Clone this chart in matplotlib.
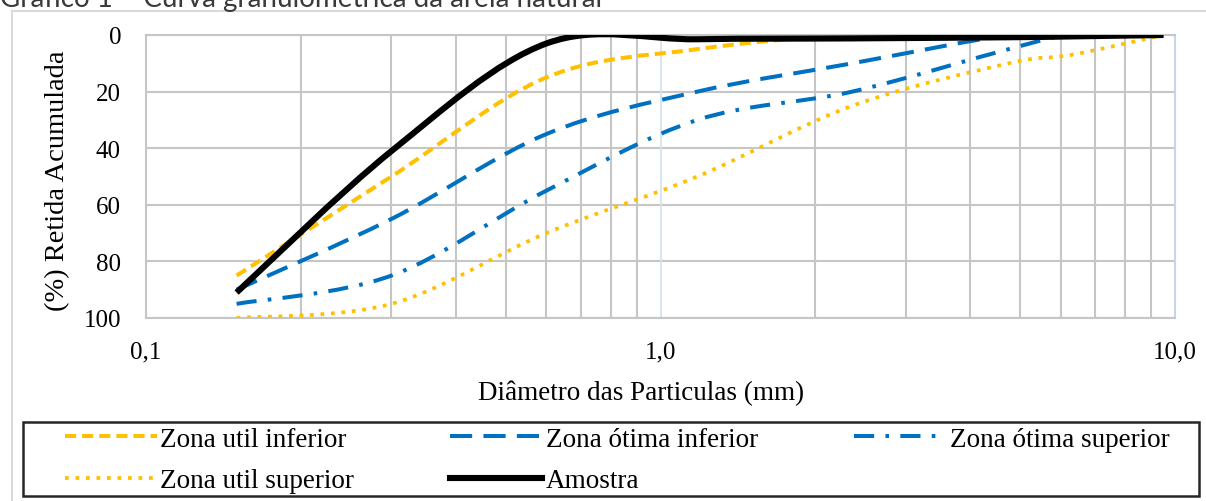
import numpy as np
import matplotlib
matplotlib.use("Agg")
import matplotlib.pyplot as plt
from matplotlib.path import Path
from matplotlib.patches import PathPatch, Rectangle
from matplotlib.lines import Line2D
from matplotlib.ticker import FixedLocator, NullFormatter

# ---------------- data ----------------
sieves = [0.15, 0.3, 0.6, 1.18, 2.36, 4.75, 6.3, 9.5]   # mm
util_inferior = [85, 50, 15, 5, 0, 0, 0, 0]
otima_inferior = [90, 65, 35, 20, 10, 0, 0, 0]
otima_superior = [95, 85, 55, 30, 20, 5, 0, 0]
util_superior = [100, 95, 70, 50, 25, 10, 7, 0]
amostra = [91, 41, 3, 1.5, 1.2, 0.8, 0.5, 0]

series_labels = ["Zona util inferior", "Zona ótima inferior", "Zona ótima superior",
                 "Zona util superior", "Amostra"]
x_tick_values = [0.1, 1.0, 10.0]
x_tick_labels = ["0,1", "1,0", "10,0"]
y_tick_values = [0, 20, 40, 60, 80, 100]
y_tick_labels = ["0", "20", "40", "60", "80", "100"]

title_text = "Gráfico 1 – Curva granulométrica da areia natural"
xlabel_text = "Diâmetro das Particulas (mm)"
ylabel_text = "(%) Retida Acumulada"

# ---------------- styles ----------------
ORANGE = "#FFC000"
BLUE = "#0070C0"
styles = [
    dict(color=ORANGE, lw=2.9, ls=(0, (2.75, 1.5))),
    dict(color=BLUE, lw=2.9, ls=(0, (5.5, 2.8))),
    dict(color=BLUE, lw=2.9, ls=(0, (5.0, 2.8, 0.9, 2.8))),
    dict(color=ORANGE, lw=2.7, ls=(0, (1.0, 1.8))),
    dict(color="black", lw=4.4, ls="-"),
]

W, H = 1206, 502
fig = plt.figure(figsize=(W / 100, H / 100), dpi=100)
fig.patch.set_facecolor("white")

L, R, T, B = 146, 1175, 36, 319
ax = fig.add_axes([L / W, 1 - B / H, (R - L) / W, (B - T) / H])
ax.set_xscale("log")
ax.set_xlim(0.1, 10)
ax.set_ylim(100, 0)


def smooth_path(xs, ys):
    """Excel-like smoothed line as cubic Bezier segments, built in log-x space."""
    u = np.log10(np.asarray(xs, float))
    y = np.asarray(ys, float)
    n = len(u)
    verts = [(xs[0], ys[0])]
    codes = [Path.MOVETO]
    for i in range(n - 1):
        im = max(i - 1, 0)
        ip2 = min(i + 2, n - 1)
        c1u = u[i] + (u[i + 1] - u[im]) / 6.0
        c1y = y[i] + (y[i + 1] - y[im]) / 6.0
        c2u = u[i + 1] - (u[ip2] - u[i]) / 6.0
        c2y = y[i + 1] - (y[ip2] - y[i]) / 6.0
        verts += [(10 ** c1u, c1y), (10 ** c2u, c2y), (xs[i + 1], ys[i + 1])]
        codes += [Path.CURVE4] * 3
    return Path(verts, codes)


all_series = [util_inferior, otima_inferior, otima_superior, util_superior, amostra]
draw_order = [3, 2, 1, 0, 4]
for k in draw_order:
    st = styles[k]
    patch = PathPatch(smooth_path(sieves, all_series[k]), fill=False,
                      edgecolor=st["color"], lw=st["lw"], linestyle=st["ls"],
                      capstyle="butt", joinstyle="round", zorder=3 + k)
    ax.add_patch(patch)

ax.set_xlim(0.1, 10)
ax.set_ylim(100, 0)

# grid
GRID = "#C6C6C6"
ax.xaxis.set_major_locator(FixedLocator(x_tick_values))
ax.set_xticklabels(x_tick_labels)
minor_x = [m * 10.0 ** e for e in (-1, 0) for m in range(2, 10)]
ax.xaxis.set_minor_locator(FixedLocator(minor_x))
ax.xaxis.set_minor_formatter(NullFormatter())
ax.set_yticks(y_tick_values)
ax.set_yticklabels(y_tick_labels)
ax.grid(True, which="minor", axis="x", color=GRID, lw=1.5, zorder=0)
ax.grid(True, which="major", axis="y", color=GRID, lw=1.5, zorder=0)
ax.axvline(1.0, color="#D6E2F0", lw=1.3, zorder=1)
ax.set_axisbelow(True)

for side in ["left", "top", "bottom"]:
    ax.spines[side].set_color(GRID)
    ax.spines[side].set_linewidth(1.5)
ax.spines["right"].set_color("#C5D5EA")
ax.spines["right"].set_linewidth(1.5)

FONT = ["Liberation Serif", "DejaVu Serif"]
ax.tick_params(axis="both", which="both", length=0)
ax.tick_params(axis="x", pad=16, labelsize=18)
ax.tick_params(axis="y", pad=18, labelsize=18)
for lab in ax.get_xticklabels() + ax.get_yticklabels():
    lab.set_family(FONT)
    lab.set_color("black")

fig.text(641 / W, 1 - 393 / H, xlabel_text, ha="center", va="center",
         fontsize=19.5, family=FONT, color="black")
fig.text(58 / W, 1 - 181 / H, ylabel_text, ha="center", va="center",
         rotation=90, fontsize=20.5, family=FONT, color="black")

# title (partially cut at top, as in the reference)
fig.text(0, 1 - 7 / H, title_text, ha="left", va="baseline", fontsize=20,
         family=["Lato", "DejaVu Sans"], color="#3a3a3a")

# chart area border
BORDER = "#D9D9D9"
fig.add_artist(Line2D([11.5 / W, 11.5 / W], [0, 1 - 12 / H], transform=fig.transFigure,
                      color=BORDER, lw=1.5))
fig.add_artist(Line2D([11.5 / W, 1], [1 - 12 / H, 1 - 12 / H], transform=fig.transFigure,
                      color=BORDER, lw=1.5))

# legend frame
fig.add_artist(Rectangle((23 / W, 1 - 497 / H), (1199 - 23) / W, (497 - 423) / H,
                         transform=fig.transFigure, fill=False, edgecolor="#262626",
                         lw=1.8))

# legend (row-wise order: matplotlib fills columns first)
order = [0, 3, 1, 4, 2]
handles = [Line2D([], [], color=styles[k]["color"], lw=styles[k]["lw"],
                  ls=styles[k]["ls"], dash_capstyle="butt") for k in order]
labels = [series_labels[k] for k in order]
leg = fig.legend(handles, labels, ncol=3, loc="center left",
                 bbox_to_anchor=(62 / W, 1 - 499 / H, (1172 - 62) / W, (499 - 423) / H),
                 mode="expand", borderaxespad=0, frameon=False,
                 handlelength=3.4, handletextpad=0.12, borderpad=0.1,
                 labelspacing=0.6, prop={"family": FONT, "size": 19.5})
for t in leg.get_texts():
    t.set_color("black")

fig.savefig("out.png", dpi=100, facecolor="white")
